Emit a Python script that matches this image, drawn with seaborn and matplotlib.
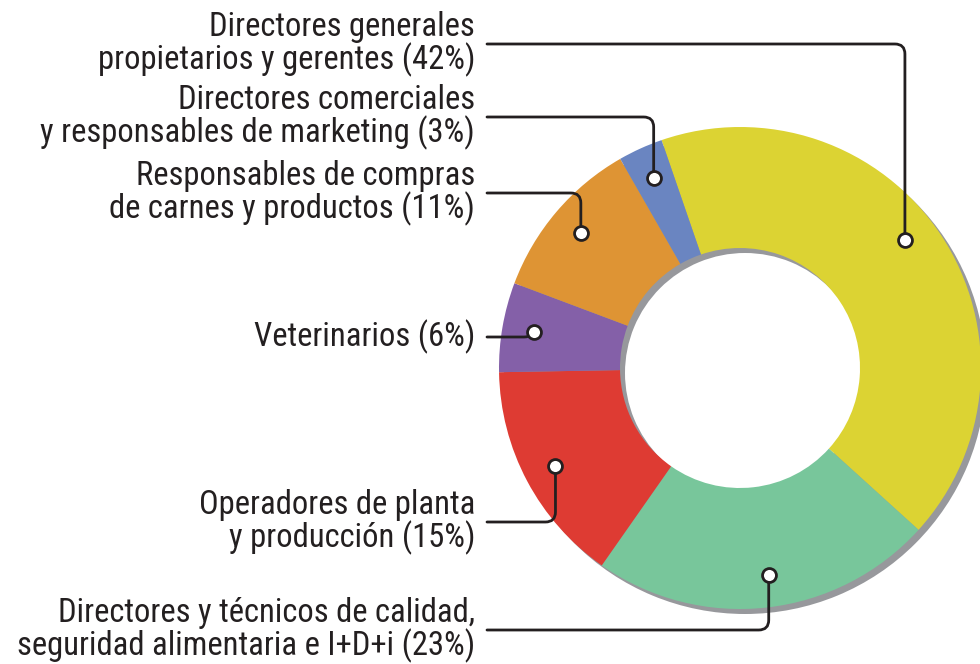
import matplotlib
matplotlib.use("Agg")
import matplotlib.pyplot as plt
import numpy as np
import seaborn as sns

# shares of the attendee profile, clockwise from the top
labels = [
    "Directores generales\npropietarios y gerentes (42%)",
    "Directores y técnicos de calidad,\nseguridad alimentaria e I+D+i (23%)",
    "Operadores de planta\ny producción (15%)",
    "Veterinarios (6%)",
    "Responsables de compras\nde carnes y productos (11%)",
    "Directores comerciales\ny responsables de marketing (3%)",
]
shares = [42, 23, 15, 6, 11, 3]
colors = ["#DCD333", "#78C69B", "#DE3B33", "#8460A8", "#DE9434", "#6A85C1"]

sns.set_theme(style="white")
plt.rcParams["font.family"] = ["Roboto Condensed", "Roboto", "DejaVu Sans"]

W, H = 980, 664
fig = plt.figure(figsize=(W / 100, H / 100), dpi=100)
ax = fig.add_axes([0, 0, 1, 1])

cx, cy, R, ring = 740, H - 368, 241, 121

# grey shadow ring, offset down-right
ax.pie([1], colors=["#97989C"], radius=R, center=(cx + 5, cy - 5),
       wedgeprops=dict(width=ring, edgecolor="none"))
wedges, _ = ax.pie(shares, colors=colors, radius=R, center=(cx, cy),
                   startangle=109, counterclock=False,
                   wedgeprops=dict(width=ring, edgecolor="none"))

ax.set_xlim(0, W)
ax.set_ylim(0, H)
ax.set_aspect("equal")
ax.axis("off")

# label anchor heights (pixels from top) and dot angle tweaks
label_y = [44, 630, 522, 337, 193, 117]
nudge = [4.5, 1.5, 0, 0, 0, 0]
ink = "#231F20"

for w, lab, ly, dn in zip(wedges, labels, label_y, nudge):
    mid = np.deg2rad((w.theta1 + w.theta2) / 2 + dn)
    dx = cx + 209 * np.cos(mid)
    dy = cy + 209 * np.sin(mid)
    ty = H - ly
    ax.text(475, ty, lab, ha="right", va="center", fontsize=23.5,
            color=ink, linespacing=1.0)
    if abs(ty - dy) < 3:
        ax.plot([487, dx], [dy, dy], color=ink, lw=2, zorder=4)
    else:
        ax.annotate("", xy=(dx, dy), xytext=(487, ty),
                    arrowprops=dict(arrowstyle="-", color=ink, lw=2,
                                    shrinkA=0, shrinkB=0,
                                    connectionstyle="angle,angleA=0,angleB=90,rad=10"),
                    zorder=4)
    ax.scatter([dx], [dy], s=100, facecolor="white", edgecolor=ink,
               linewidth=2, zorder=5)

fig.savefig("out.png", dpi=100)
